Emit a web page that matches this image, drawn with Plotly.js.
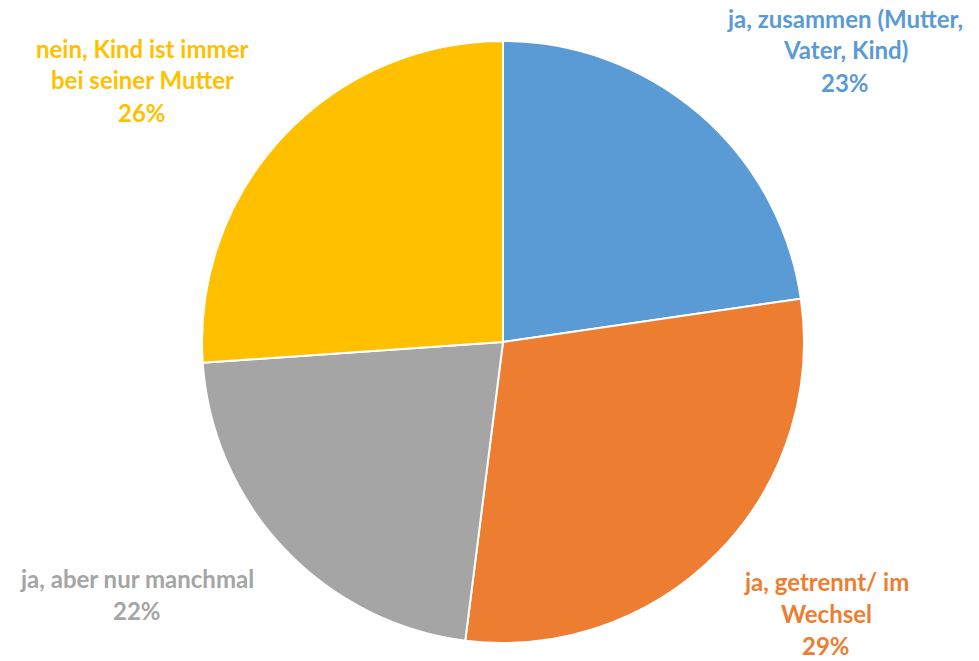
<!DOCTYPE html>
<html>
<head>
<meta charset="utf-8">
<script src="https://cdn.plot.ly/plotly-3.0.1.min.js"></script>
<style>html,body{margin:0;padding:0;background:#fff;}#chart{width:979px;height:661px;}</style>
</head>
<body>
<div id="chart"></div>
<script>
const categories = ["ja, zusammen (Mutter,|Vater, Kind)", "ja, getrennt/ im|Wechsel", "ja, aber nur manchmal", "nein, Kind ist immer|bei seiner Mutter"];
const values = [22.7, 29.3, 21.9, 26.1];
const colors = ["#5B9BD5", "#ED7D31", "#A5A5A5", "#FFC000"];
// label anchor (pixels: center x / first line y) per category
const labelX = [845, 826, 137, 142];
const labelY = [18, 581, 578, 48];

const W = 979, H = 661, LINE = 32;
const total = values.reduce((a, b) => a + b, 0);
const annotations = [];
categories.forEach((c, i) => {
  const lines = c.split("|").concat([Math.round(values[i] / total * 100) + "%"]);
  lines.forEach((ln, j) => {
    annotations.push({
      xref: "paper", yref: "paper",
      x: labelX[i] / W, y: 1 - (labelY[i] + j * LINE) / H,
      xanchor: "center", yanchor: "middle",
      text: "<b>" + ln + "</b>", showarrow: false,
      font: {family: "Lato, 'Open Sans', sans-serif", size: 24, color: colors[i]}
    });
  });
});

const cx = 503, cy = 342, r = 301;
const data = [{
  type: "pie",
  labels: categories.map(c => c.replace("|", " ")),
  values: values,
  sort: false,
  direction: "clockwise",
  rotation: 0,
  textinfo: "none",
  hoverinfo: "label+percent",
  marker: {colors: colors, line: {color: "#ffffff", width: 2}},
  domain: {x: [(cx - r) / W, (cx + r) / W], y: [1 - (cy + r) / H, 1 - (cy - r) / H]}
}];
const layout = {
  width: W, height: H,
  margin: {l: 0, r: 0, t: 0, b: 0},
  showlegend: false,
  paper_bgcolor: "#ffffff",
  annotations: annotations
};
Plotly.newPlot("chart", data, layout, {displayModeBar: false});
</script>
</body>
</html>
